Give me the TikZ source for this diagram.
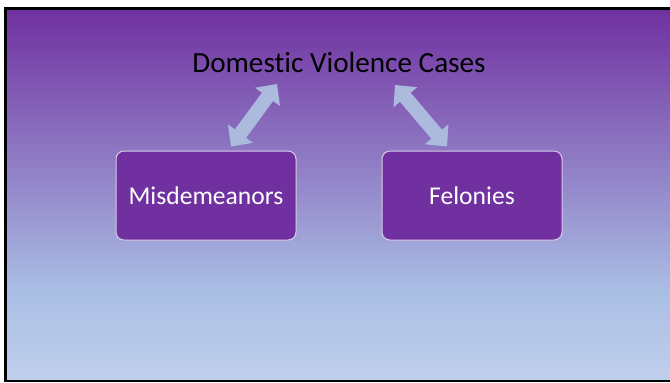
\documentclass[tikz,border=0pt]{standalone}
\usepackage{fontspec}
\setmainfont{Carlito}[Ligatures={NoCommon}]
\usepackage{xcolor}
\usetikzlibrary{arrows.meta,positioning,calc}
\definecolor{slide_purple}{RGB}{112,48,160}
\definecolor{slide_mid}{RGB}{170,190,228}
\definecolor{slide_low}{RGB}{192,207,236}
\definecolor{arrow_blue}{RGB}{172,186,222}
\pgfdeclareverticalshading{slidebg}{100bp}{color(0bp)=(slide_low); color(25bp)=(slide_low); color(37bp)=(slide_mid); color(75bp)=(slide_purple); color(100bp)=(slide_purple)}

\begin{document}
\begin{tikzpicture}[
                x=0.5pt, y=-0.5pt,
                every node/.style={inner sep=0pt},
                heading/.style={font=\fontsize{14.6}{17}\selectfont, text=black},
                category/.style={draw=white!75!slide_purple, fill=slide_purple, minimum width=90pt, minimum height=44.5pt, rounded corners=4pt, font=\fontsize{12.8}{15}\selectfont, text=white, line width=0.5pt},
                link_both/.style={arrow_blue, line width=7pt, {Triangle[length=8pt,width=15pt]}-{Triangle[length=8pt,width=15pt]}}
            ]
                \useasboundingbox (0,0) rectangle (670,382);
                
                % Slide background (purple to light blue)
                \fill[white] (0,0) rectangle (670,382);
                \shade[shading=slidebg] (5,9) rectangle (670,381);
                \draw[black, line width=1.35pt] (670,8.7) -- (5.3,8.7) -- (5.3,381) -- (670,381);
                
                % Title
                \node[heading] (title) at (339,62.5) {Domestic Violence Cases};
                
                % Case types
                \node[category] (misd) at (206,195.5) {Misdemeanors};
                \node[category] (felo) at (472,195.5) {Felonies};
                
                % Double arrows to the title
                \draw[link_both] ([shift={(25,-4)}]misd.north) -- ([shift={(-62,21.5)}]title.center);
                \draw[link_both] ([shift={(-25,-4)}]felo.north) -- ([shift={(56,22.5)}]title.center);
            \end{tikzpicture}
\end{document}
